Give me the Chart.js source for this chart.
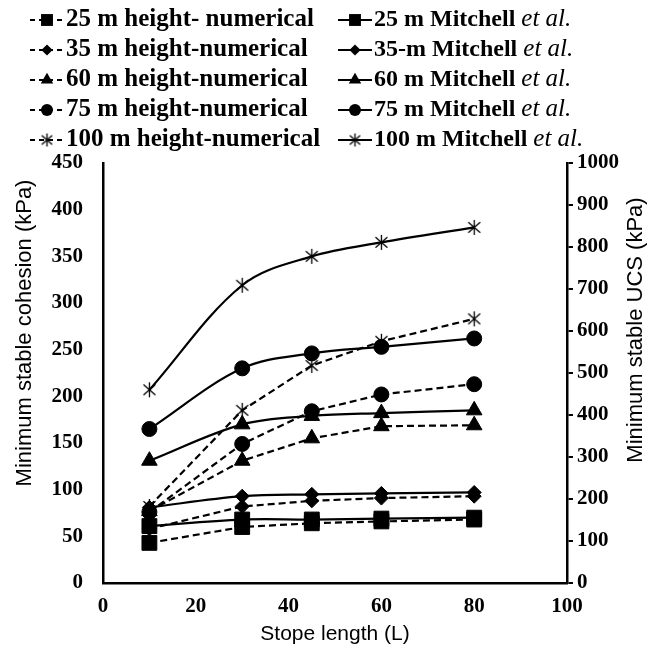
<!DOCTYPE html>
<html>
<head>
<meta charset="utf-8">
<title>Minimum stable cohesion vs stope length</title>
<script src="https://cdn.jsdelivr.net/npm/chart.js@4.4.1/dist/chart.umd.min.js"></script>
<style>
  body { margin: 0; background: #fff; }
  #wrap { width: 657px; height: 650px; }
</style>
</head>
<body>
<div id="wrap"><canvas id="stopeChart" width="657" height="650"></canvas></div>
<script>
// stope lengths (x) and minimum stable cohesion (kPa) per stope height
const stopeLength = [10, 30, 45, 60, 80];

const num25 = [43, 60, 64, 66, 68];
const num35 = [58, 82, 88, 91, 93];
const num60 = [77, 131, 155, 168, 169];
const num75 = [76, 149, 184, 202, 213];
const num100 = [82, 185, 233, 259, 283];

const mit25 = [61, 68, 68, 69, 70];
const mit35 = [81, 93, 95, 96, 97];
const mit60 = [131, 170, 179, 182, 185];
const mit75 = [165, 230, 246, 253, 262];
const mit100 = [207, 319, 350, 365, 381];

const numLabels = ["25 m height- numerical", "35 m height-numerical", "60 m height-numerical",
                   "75 m height-numerical", "100 m height-numerical"];
const mitLabels = ["25 m Mitchell", "35-m Mitchell", "60 m Mitchell", "75 m Mitchell", "100 m Mitchell"];

const xTicks = [0, 20, 40, 60, 80, 100];
const cohesionMax = 450;
const ucsMax = 1000;

const serif = "'Liberation Serif', 'Times New Roman', serif";
const sans = "'Liberation Sans', Arial, sans-serif";

// Excel style asterisk marker: an X with a vertical bar
function makeAsterisk(size) {
    let c = document.createElement("canvas");
    c.width = size;
    c.height = size;
    let g = c.getContext("2d");
    let m = size / 2, r = size / 2 - 1;
    g.strokeStyle = "#000";
    g.lineWidth = 1.3;
    g.beginPath();
    g.moveTo(m, m - r); g.lineTo(m, m + r);
    g.moveTo(m - r * 0.8, m - r * 0.7); g.lineTo(m + r * 0.8, m + r * 0.7);
    g.moveTo(m - r * 0.8, m + r * 0.7); g.lineTo(m + r * 0.8, m - r * 0.7);
    g.stroke();
    return c;
}
const asterisk = makeAsterisk(17);
const smallAsterisk = makeAsterisk(15);

const markers = [
    { style: "rect", radius: 10.5 },
    { style: "rectRot", radius: 7 },
    { style: "triangle", radius: 9 },
    { style: "circle", radius: 7.5 },
    { style: asterisk, radius: 8 }
];

const numData = [num25, num35, num60, num75, num100];
const mitData = [mit25, mit35, mit60, mit75, mit100];

function toPoints(values) {
    return values.map((v, i) => ({ x: stopeLength[i], y: v }));
}

let datasets = [];
mitData.forEach((vals, i) => {
    datasets.push({
        label: mitLabels[i] + " et al.",
        data: toPoints(vals),
        borderColor: "#000",
        backgroundColor: "#000",
        borderWidth: 2.2,
        tension: 0.35,
        pointStyle: markers[i].style,
        pointRadius: markers[i].radius,
        pointBackgroundColor: "#000",
        pointBorderColor: "#000",
        pointBorderWidth: 1
    });
});
numData.forEach((vals, i) => {
    datasets.push({
        label: numLabels[i],
        data: toPoints(vals),
        borderColor: "#000",
        backgroundColor: "#000",
        borderWidth: 2.2,
        borderDash: [7, 4],
        tension: 0,
        pointStyle: markers[i].style,
        pointRadius: markers[i].radius,
        pointBackgroundColor: "#000",
        pointBorderColor: "#000",
        pointBorderWidth: 1
    });
});

// small marker for the legend rows
function drawMarker(ctx, style, x, y, radius) {
    ctx.save();
    ctx.fillStyle = "#000";
    ctx.strokeStyle = "#000";
    ctx.beginPath();
    if (style === "rect") {
        let s = radius * Math.SQRT1_2;
        ctx.rect(x - s, y - s, 2 * s, 2 * s);
        ctx.fill();
    } else if (style === "rectRot") {
        ctx.moveTo(x - radius, y); ctx.lineTo(x, y - radius);
        ctx.lineTo(x + radius, y); ctx.lineTo(x, y + radius);
        ctx.closePath();
        ctx.fill();
    } else if (style === "triangle") {
        ctx.moveTo(x, y - radius);
        ctx.lineTo(x + radius * 0.866, y + radius * 0.5);
        ctx.lineTo(x - radius * 0.866, y + radius * 0.5);
        ctx.closePath();
        ctx.fill();
    } else if (style === "circle") {
        ctx.arc(x, y, radius, 0, Math.PI * 2);
        ctx.fill();
    } else {
        ctx.drawImage(smallAsterisk, x - smallAsterisk.width / 2, y - smallAsterisk.height / 2);
    }
    ctx.restore();
}

// two column legend above the plot, plus the two y axis titles
const legendPlugin = {
    id: "twoColLegend",
    afterDraw(chart) {
        let ctx = chart.ctx;
        let rowY = [20, 50, 80, 110, 140];
        let cols = [
            { x: 30, dashed: true, labels: numLabels, etal: false, size: 25 },
            { x: 338, dashed: false, labels: mitLabels, etal: true, size: 24 }
        ];
        ctx.save();
        cols.forEach(col => {
            col.labels.forEach((text, i) => {
                let y = rowY[i];
                let m = markers[i];
                ctx.strokeStyle = "#000";
                ctx.lineWidth = 2;
                ctx.setLineDash(col.dashed ? [5, 4] : []);
                ctx.beginPath();
                ctx.moveTo(col.x, y);
                ctx.lineTo(col.x + 34, y);
                ctx.stroke();
                ctx.setLineDash([]);
                drawMarker(ctx, m.style, col.x + 17, y, m.radius * 0.8);

                ctx.fillStyle = "#000";
                ctx.textBaseline = "middle";
                ctx.textAlign = "left";
                ctx.font = "bold " + col.size + "px " + serif;
                ctx.fillText(text, col.x + 36, y);
                if (col.etal) {
                    let w = ctx.measureText(text + " ").width;
                    ctx.font = "italic 25px " + serif;
                    ctx.fillText("et al.", col.x + 36 + w, y - 1);
                }
            });
        });

        ctx.font = "22px " + sans;
        ctx.textAlign = "center";
        ctx.textBaseline = "middle";
        [["Minimum stable cohesion (kPa)", 25, 333], ["Minimum stable UCS (kPa)", 636, 330]].forEach(t => {
            ctx.save();
            ctx.translate(t[1], t[2]);
            ctx.rotate(-Math.PI / 2);
            ctx.fillText(t[0], 0, 0);
            ctx.restore();
        });
        ctx.restore();
    }
};

const tickFont = { family: serif, size: 21, weight: "bold" };
const titleFont = { family: sans, size: 21 };

new Chart(document.getElementById("stopeChart"), {
    type: "line",
    data: { datasets: datasets },
    options: {
        responsive: false,
        animation: false,
        layout: { padding: { top: 163, left: 0, right: 0, bottom: 0 } },
        plugins: {
            legend: { display: false },
            tooltip: { enabled: false }
        },
        scales: {
            x: {
                type: "linear",
                min: 0,
                max: 100,
                afterBuildTicks: s => { s.ticks = xTicks.map(v => ({ value: v })); },
                afterFit: s => { s.height = 67; },
                ticks: { font: tickFont, color: "#000", padding: 11 },
                grid: { display: false, drawTicks: false },
                border: { display: true, color: "#000", width: 2.5 },
                title: { display: true, text: "Stope length (L)", font: titleFont, color: "#000",
                         padding: { top: 0, bottom: 3 } }
            },
            y: {
                position: "left",
                min: 0,
                max: cohesionMax,
                afterFit: s => { s.width = 103; },
                ticks: { stepSize: 50, font: tickFont, color: "#000", padding: 20 },
                grid: { display: false, drawTicks: false },
                border: { display: true, color: "#000", width: 2.5 }
            },
            ucs: {
                position: "right",
                min: 0,
                max: ucsMax,
                afterFit: s => { s.width = 90; },
                ticks: { stepSize: 100, font: tickFont, color: "#000", padding: 4,
                         callback: v => String(v) },
                grid: { display: true, drawOnChartArea: false, drawTicks: true, tickLength: 6,
                        color: "#000", lineWidth: 2 },
                border: { display: true, color: "#000", width: 2.5 }
            }
        }
    },
    plugins: [legendPlugin]
});
</script>
</body>
</html>
